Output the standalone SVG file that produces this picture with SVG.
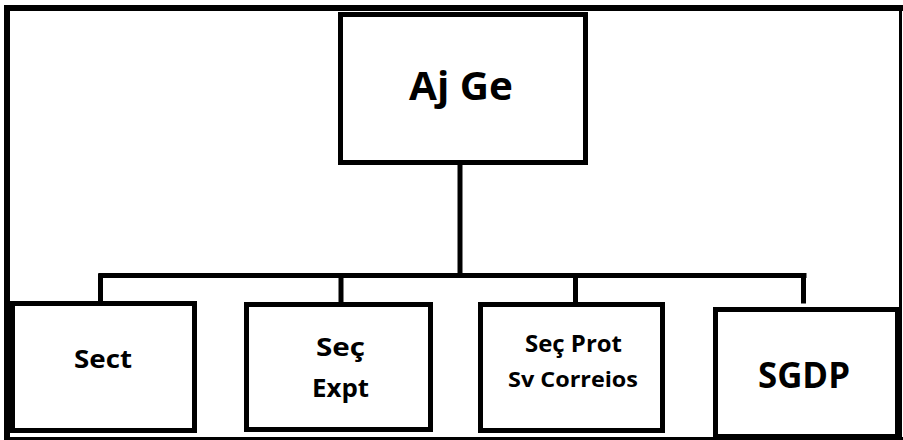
<svg xmlns="http://www.w3.org/2000/svg" width="903" height="440" viewBox="0 0 903 440">
<style>
.box{fill:#fff;stroke:#000;stroke-width:5}
.ln{stroke:#000;stroke-width:5;fill:none;stroke-linecap:square}
.t{font-family:"Open Sans","Liberation Sans",sans-serif;font-weight:bold;fill:#000;text-anchor:middle}
</style>
<rect x="0" y="0" width="903" height="440" fill="#fff"/>
<g id="frame" stroke="#000" fill="none">
<line x1="4" y1="8" x2="903" y2="8" stroke-width="6"/>
<line x1="7" y1="5" x2="7" y2="440" stroke-width="6"/>
<line x1="900.5" y1="5" x2="900.5" y2="440" stroke-width="3"/>
<line x1="4" y1="438.5" x2="903" y2="438.5" stroke-width="3"/>
</g>
<g id="connectors">
<line class="ln" x1="460" y1="165" x2="460" y2="275"/>
<line class="ln" x1="101" y1="275.5" x2="804" y2="275.5"/>
<line class="ln" x1="100.5" y1="276" x2="100.5" y2="301"/>
<line class="ln" x1="341" y1="276" x2="341" y2="302"/>
<line class="ln" x1="575.5" y1="276" x2="575.5" y2="302"/>
<line class="ln" x1="803.5" y1="276" x2="803.5" y2="301"/>
</g>
<g id="ajge">
<rect class="box" x="340.5" y="14.5" width="245" height="148"/>
<text class="t" x="461" y="100" font-size="39" textLength="104" lengthAdjust="spacingAndGlyphs">Aj Ge</text>
</g>
<g id="sect">
<rect class="box" x="12.5" y="303.5" width="182" height="127"/>
<text class="t" x="103" y="368" font-size="25" textLength="58" lengthAdjust="spacingAndGlyphs">Sect</text>
</g>
<g id="secexpt">
<rect class="box" x="246.5" y="304.5" width="184" height="125"/>
<text class="t" x="340.5" y="356" font-size="25" textLength="49" lengthAdjust="spacingAndGlyphs">Seç</text>
<text class="t" x="340.5" y="397" font-size="25" textLength="57" lengthAdjust="spacingAndGlyphs">Expt</text>
</g>
<g id="secprot">
<rect class="box" x="480.5" y="304.5" width="182" height="126"/>
<text class="t" x="573.5" y="352" font-size="22.5" textLength="97" lengthAdjust="spacingAndGlyphs">Seç Prot</text>
<text class="t" x="573" y="387" font-size="22" textLength="130" lengthAdjust="spacingAndGlyphs">Sv Correios</text>
</g>
<g id="sgdp">
<rect class="box" x="715.5" y="309.5" width="182" height="127"/>
<text class="t" x="804" y="388" font-size="36" textLength="92" lengthAdjust="spacingAndGlyphs">SGDP</text>
</g>
</svg>
